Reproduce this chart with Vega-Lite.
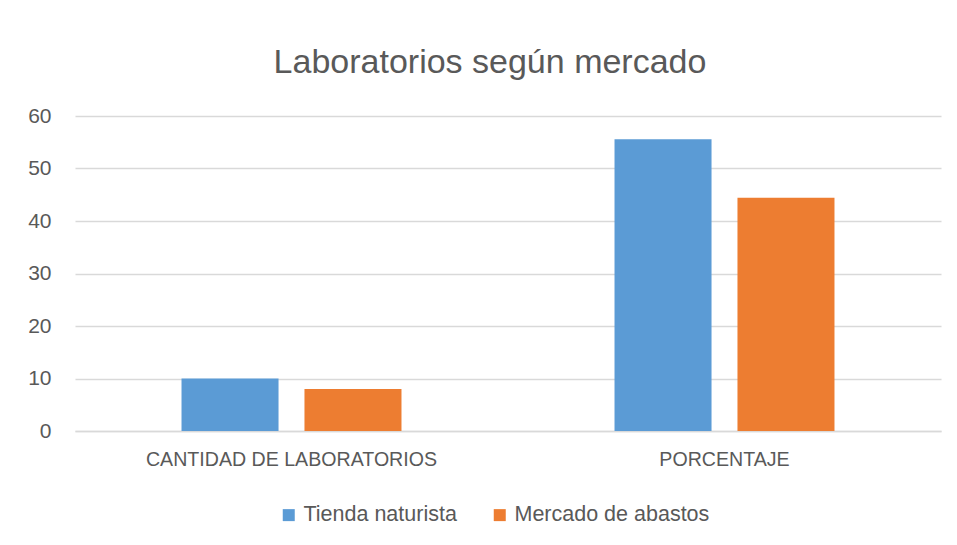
{
  "$schema": "https://vega.github.io/schema/vega-lite/v6.json",
  "autosize": {"type": "none"},
  "padding": {"left": 75, "top": 116, "right": 16, "bottom": 114},
  "width": 866,
  "height": 315,
  "background": "white",
  "title": {
    "text": "Laboratorios según mercado",
    "fontSize": 34,
    "font": "Liberation Sans",
    "fontWeight": "normal",
    "color": "#595959",
    "dx": -18,
    "offset": 25
  },
  "data": {
    "values": [
      {"categoria": "CANTIDAD DE LABORATORIOS", "mercado": "Tienda naturista", "valor": 10},
      {"categoria": "CANTIDAD DE LABORATORIOS", "mercado": "Mercado de abastos", "valor": 8},
      {"categoria": "PORCENTAJE", "mercado": "Tienda naturista", "valor": 55.56},
      {"categoria": "PORCENTAJE", "mercado": "Mercado de abastos", "valor": 44.44}
    ]
  },
  "mark": {"type": "bar"},
  "encoding": {
    "x": {
      "field": "categoria",
      "type": "nominal",
      "sort": null,
      "scale": {"paddingInner": 0.492, "paddingOuter": 0.246},
      "axis": {
        "title": null,
        "labelAngle": 0,
        "labelFontSize": 19.6,
        "labelFont": "Liberation Sans",
        "labelColor": "#595959",
        "labelPadding": 19,
        "labelLimit": 0,
        "ticks": false,
        "domainColor": "#d9d9d9",
        "domainWidth": 1.5
      }
    },
    "xOffset": {
      "field": "mercado",
      "type": "nominal",
      "sort": ["Tienda naturista", "Mercado de abastos"],
      "scale": {"paddingInner": 0.211, "paddingOuter": 0}
    },
    "y": {
      "field": "valor",
      "type": "quantitative",
      "scale": {"domain": [0, 60]},
      "axis": {
        "title": null,
        "values": [0, 10, 20, 30, 40, 50, 60],
        "labelFontSize": 21,
        "labelFont": "Liberation Sans",
        "labelColor": "#595959",
        "labelPadding": 24,
        "ticks": false,
        "domain": false,
        "gridColor": "#d9d9d9",
        "gridWidth": 1.5
      }
    },
    "color": {
      "field": "mercado",
      "type": "nominal",
      "sort": ["Tienda naturista", "Mercado de abastos"],
      "scale": {"domain": ["Tienda naturista", "Mercado de abastos"], "range": ["#5b9bd5", "#ed7d31"]},
      "legend": {
        "title": null,
        "orient": "none",
        "legendX": 203,
        "legendY": 388,
        "direction": "horizontal",
        "symbolType": "square",
        "symbolSize": 144,
        "symbolStrokeWidth": 0,
        "labelFontSize": 21.5,
        "labelFont": "Liberation Sans",
        "labelColor": "#595959",
        "labelOffset": 4,
        "labelLimit": 0,
        "columnPadding": 32
      }
    }
  },
  "config": {
    "view": {"stroke": null}
  }
}
